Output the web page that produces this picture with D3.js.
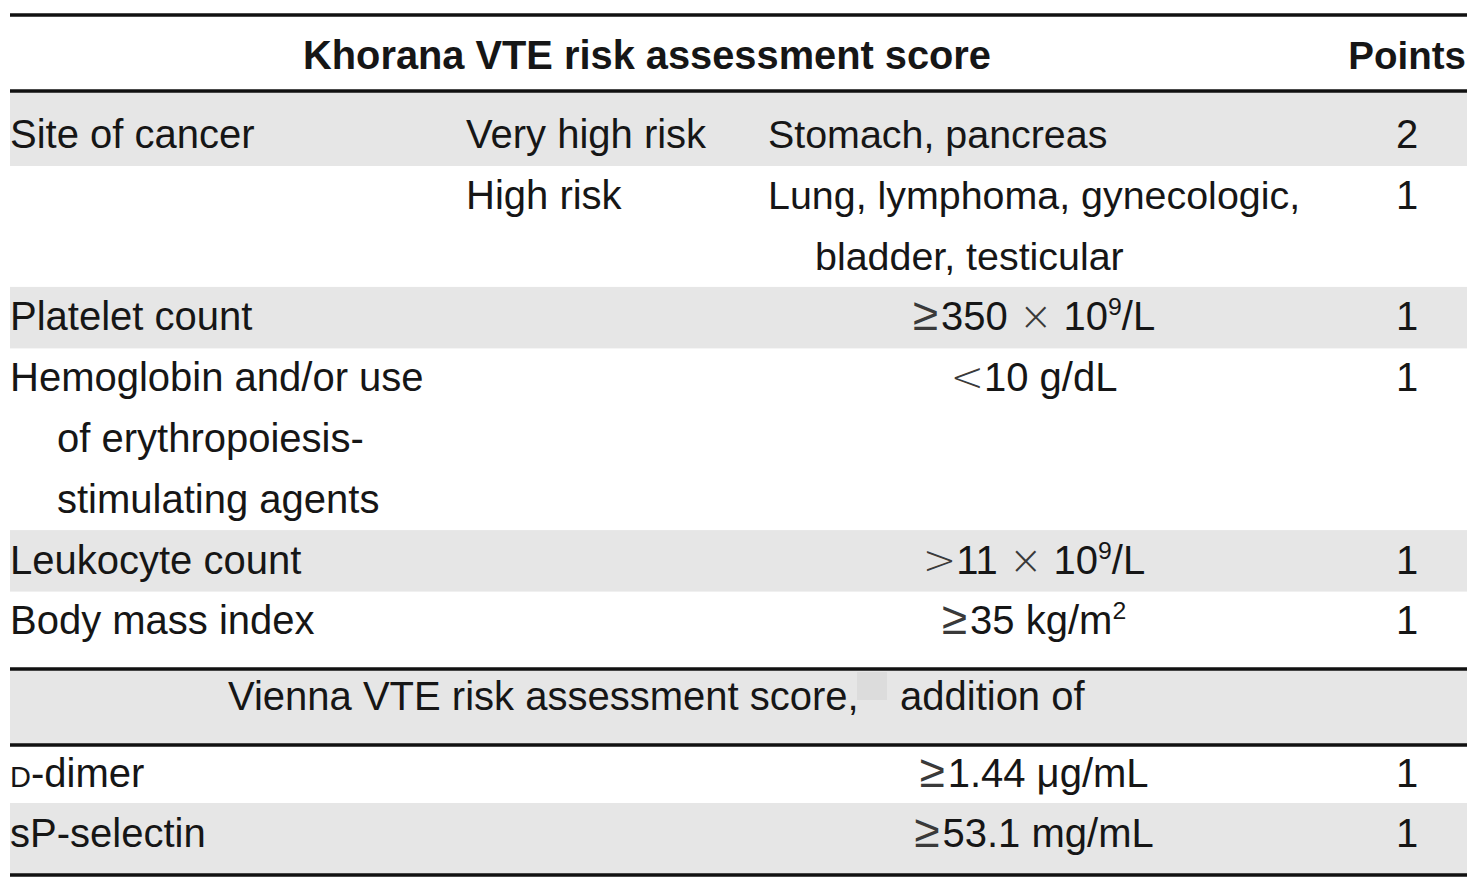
<!DOCTYPE html>
<html>
<head>
<meta charset="utf-8">
<script src="https://cdn.jsdelivr.net/npm/d3@7"></script>
<style>
  html, body { margin: 0; padding: 0; background: #ffffff; }
  svg { display: block; }
  text { font-family: "Liberation Sans", Arial, Helvetica, sans-serif; fill: #161616; }
  .sym { font-family: "DejaVu Sans", sans-serif; fill: #3a3a3a; font-weight: 200; }
</style>
</head>
<body>
<svg id="chart" width="1475" height="891"></svg>
<script>
// ---- Data ----
const headerTitle = "Khorana VTE risk assessment score";
const headerPoints = "Points";
const khoranaFactors = [["Site of cancer"], [], ["Platelet count"],
  ["Hemoglobin and/or use", "of erythropoiesis-", "stimulating agents"],
  ["Leukocyte count"], ["Body mass index"]];
const riskLevels = ["Very high risk", "High risk", "", "", "", ""];
const cancerSites = [["Stomach, pancreas"], ["Lung, lymphoma, gynecologic,", "bladder, testicular"], [], [], [], []];
const thresholds = ["", "", "≥350 × 10^9/L", "<10 g/dL", ">11 × 10^9/L", "≥35 kg/m^2"];
const khoranaPoints = [2, 1, 1, 1, 1, 1];
const viennaTitle = ["Vienna VTE risk assessment score,", "addition of"];
const viennaFactors = ["D-dimer", "sP-selectin"];
const viennaThresholds = ["≥1.44 μg/mL", "≥53.1 mg/mL"];
const viennaPoints = [1, 1];

// ---- Layout ----
const svg = d3.select("#chart");
const X0 = 10, X1 = 1467;
const FS = 40;
const grey = "#e6e6e6";
const ruleColor = "#111";

// Columns
const col = d3.scaleOrdinal()
  .domain(["factor", "indent", "risk", "site", "siteIndent", "threshold", "points", "title"])
  .range([10, 57, 466, 768, 815, 1034, 1407, 647]);

// Khorana line baselines
const nLines = khoranaFactors.map((f, i) => Math.max(f.length, cancerSites[i].length, 1));
const lineStart = [];
nLines.reduce((acc, n, i) => { lineStart[i] = acc; return acc + n; }, 0);
const totalLines = d3.sum(nLines);
const lineY = d3.scaleLinear().domain([0, totalLines - 1]).range([148, 634.4]);

// Vienna rows
const vY = d3.scaleLinear().domain([0, 1]).range([787, 847]);

const rules = [15, 91, 669, 745, 875];

// ---- Backgrounds ----
const bg = svg.append("g");
khoranaFactors.forEach((f, i) => {
  if (i % 2 !== 0) return;
  let top = lineY(lineStart[i]) - 43.5;
  if (i === 0) top = rules[1];
  const bottom = lineY(lineStart[i] + nLines[i] - 1) + 18;
  bg.append("rect").attr("x", X0).attr("y", top).attr("width", X1 - X0).attr("height", bottom - top).attr("fill", grey);
});
// Vienna header band
bg.append("rect").attr("x", X0).attr("y", rules[2]).attr("width", X1 - X0).attr("height", rules[3] - rules[2]).attr("fill", grey);
bg.append("rect").attr("x", 857).attr("y", 672).attr("width", 30).attr("height", 28).attr("fill", "#dcdcdc");
// Vienna alternating rows
viennaFactors.forEach((f, i) => {
  if (i % 2 !== 1) return;
  const top = vY(i) - 44;
  bg.append("rect").attr("x", X0).attr("y", top).attr("width", X1 - X0).attr("height", rules[4] - top).attr("fill", grey);
});

// ---- Rules ----
svg.append("g").selectAll("line").data(rules).join("line")
  .attr("x1", X0).attr("x2", X1).attr("y1", d => d).attr("y2", d => d)
  .attr("stroke", ruleColor).attr("stroke-width", 3.5);

// ---- Header ----
svg.append("text").attr("x", col("title")).attr("y", 69).attr("text-anchor", "middle")
  .attr("font-size", 39.8).attr("font-weight", "bold").text(headerTitle);
svg.append("text").attr("x", 1466).attr("y", 69).attr("text-anchor", "end")
  .attr("font-size", 38.5).attr("font-weight", "bold").text(headerPoints);

// helper: math symbols in a wider font, superscripts after "^"
const symRe = /([≥×<>])/;
function plain(sel, str) {
  str.split(symRe).forEach(p => {
    if (!p) return;
    if (symRe.test(p)) {
      const s = sel.append("tspan").attr("class", "sym").text(p);
      if (p === "≥") s.attr("font-size", 46).attr("letter-spacing", 3);
    }
    else sel.append("tspan").text(p);
  });
}
function richText(sel, str) {
  const parts = str.split("^");
  plain(sel, parts[0]);
  if (parts.length > 1) {
    const m = parts[1].match(/^(\d)(.*)$/);
    sel.append("tspan").attr("font-size", FS * 0.62).attr("dy", -15).text(m[1]);
    sel.append("tspan").attr("dy", 15).text(m[2]);
  }
}

const body = svg.append("g").attr("font-size", FS);

// Khorana rows
khoranaFactors.forEach((lines, i) => {
  lines.forEach((t, j) => {
    body.append("text").attr("x", j === 0 ? col("factor") : col("indent"))
      .attr("y", lineY(lineStart[i] + j)).text(t);
  });
  if (riskLevels[i]) body.append("text").attr("x", col("risk")).attr("y", lineY(lineStart[i])).text(riskLevels[i]);
  cancerSites[i].forEach((t, j) => {
    body.append("text").attr("x", j === 0 ? col("site") : col("siteIndent"))
      .attr("y", lineY(lineStart[i] + j)).attr("font-size", 39.4).text(t);
  });
  if (thresholds[i]) {
    const tx = body.append("text").attr("x", col("threshold")).attr("y", lineY(lineStart[i])).attr("text-anchor", "middle");
    richText(tx, thresholds[i]);
  }
  body.append("text").attr("x", col("points")).attr("y", lineY(lineStart[i])).attr("text-anchor", "middle").text(khoranaPoints[i]);
});

// Vienna header
body.append("text").attr("x", 228).attr("y", 710).text(viennaTitle[0]);
body.append("text").attr("x", 900).attr("y", 710).text(viennaTitle[1]);

// Vienna rows
viennaFactors.forEach((f, i) => {
  const t = body.append("text").attr("x", col("factor")).attr("y", vY(i));
  if (f.startsWith("D-")) {
    t.append("tspan").attr("font-size", 29).text("D");
    t.append("tspan").text(f.slice(1));
  } else t.text(f);
  const th = body.append("text").attr("x", col("threshold")).attr("y", vY(i)).attr("text-anchor", "middle");
  richText(th, viennaThresholds[i]);
  body.append("text").attr("x", col("points")).attr("y", vY(i)).attr("text-anchor", "middle").text(viennaPoints[i]);
});
</script>
</body>
</html>
